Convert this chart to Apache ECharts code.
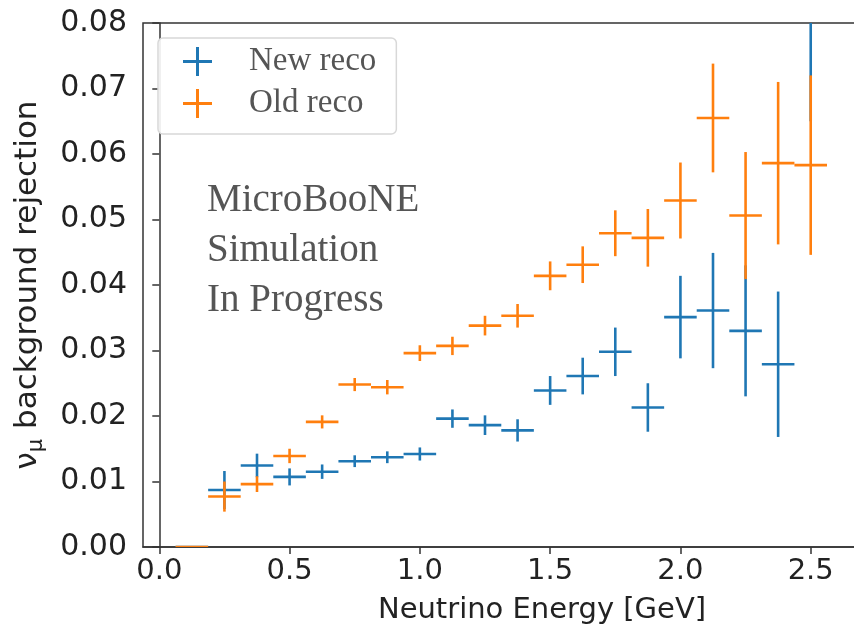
<!DOCTYPE html>
<html>
<head>
<meta charset="utf-8">
<script src="https://cdn.jsdelivr.net/npm/echarts@6/dist/echarts.min.js"></script>
<style>
html,body{margin:0;padding:0;background:#fff;}
#chart{width:854px;height:632px;}
</style>
</head>
<body>
<div id="chart"></div>
<script>
// Bin centres (GeV) and half bin width
const binCenters = [0.125, 0.25, 0.375, 0.5, 0.625, 0.75, 0.875, 1.0, 1.125, 1.25, 1.375, 1.5, 1.625, 1.75, 1.875, 2.0, 2.125, 2.25, 2.375, 2.5];
const binHalfWidth = 0.0625;

// New reco
const newRecoValues = [0, 0.0087, 0.01245, 0.0107, 0.0115, 0.0131, 0.0137, 0.0142, 0.0196, 0.0186, 0.0178, 0.0239, 0.0261, 0.0298, 0.0213, 0.0351, 0.0361, 0.0330, 0.0279, 0.095];
const newRecoErrors = [0, 0.0029, 0.0018, 0.0013, 0.0011, 0.0009, 0.0009, 0.0010, 0.0014, 0.0015, 0.0017, 0.0022, 0.0028, 0.0037, 0.0037, 0.0063, 0.0088, 0.0100, 0.0111, 0.030];

// Old reco
const oldRecoValues = [0, 0.0077, 0.0096, 0.0139, 0.0191, 0.0248, 0.0244, 0.0296, 0.0307, 0.0338, 0.0353, 0.0414, 0.0431, 0.0479, 0.0472, 0.0529, 0.0655, 0.0506, 0.0586, 0.0583];
const oldRecoErrors = [0, 0.0023, 0.0012, 0.0011, 0.0010, 0.0010, 0.0011, 0.0012, 0.0014, 0.0015, 0.0018, 0.0022, 0.0028, 0.0035, 0.0044, 0.0058, 0.0083, 0.0097, 0.0124, 0.0137];

const xTickValues = [0, 0.5, 1.0, 1.5, 2.0, 2.5, 3.0];
const seriesNames = ['New reco', 'Old reco'];
const annotationLines = ['MicroBooNE', 'Simulation', 'In Progress'];

function buildData(vals, errs) {
  return binCenters.map((x, i) => [x, vals[i], errs[i], binHalfWidth]);
}

function renderItem(params, api) {
  const x = api.value(0), y = api.value(1), ye = api.value(2), xe = api.value(3);
  const l = api.coord([x - xe, y]);
  const r = api.coord([x + xe, y]);
  const t = api.coord([x, y + ye]);
  const b = api.coord([x, y - ye]);
  const style = { stroke: api.visual('color'), lineWidth: 2.6, fill: null };
  return {
    type: 'group',
    children: [
      { type: 'line', shape: { x1: l[0], y1: l[1], x2: r[0], y2: r[1] }, style: style },
      { type: 'line', shape: { x1: t[0], y1: t[1], x2: b[0], y2: b[1] }, style: style }
    ]
  };
}

const plusIcon = 'path://M0,13 L29,13 L29,16 L0,16 Z M13,0 L16,0 L16,29 L13,29 Z';

const chart = echarts.init(document.getElementById('chart'), null, { renderer: 'canvas' });
chart.setOption({
  animation: false,
  backgroundColor: '#ffffff',
  grid: {
    left: 143, top: 23, width: 798, height: 524,
    show: true, borderColor: '#333', borderWidth: 1.5,
    outerBoundsMode: 'none'
  },
  legend: {
    data: seriesNames,
    orient: 'vertical',
    left: 158, top: 38,
    padding: [7, 20, 14, 25],
    itemWidth: 29, itemHeight: 29, itemGap: 9,
    icon: plusIcon,
    backgroundColor: 'rgba(255,255,255,0.9)',
    borderColor: '#d8d8d8', borderWidth: 1.5, borderRadius: 5,
    itemStyle: { borderWidth: 0 },
    textStyle: { fontFamily: 'Liberation Serif', fontSize: 33, lineHeight: 23, color: '#555', padding: [10, 0, 0, 32] }
  },
  xAxis: {
    type: 'value',
    min: -0.0625, max: 3.0,
    name: 'Neutrino Energy [GeV]',
    nameLocation: 'middle', nameGap: 49,
    nameTextStyle: { fontFamily: 'DejaVu Sans', fontSize: 29, color: '#222' },
    axisLine: { show: true, onZero: false, lineStyle: { color: '#333', width: 1.5 } },
    axisTick: { show: true, length: 7, customValues: xTickValues, lineStyle: { color: '#333', width: 1.5 } },
    axisLabel: { customValues: xTickValues, margin: 10, fontFamily: 'DejaVu Sans', fontSize: 29, color: '#222', formatter: v => v.toFixed(1) },
    splitLine: { show: false }
  },
  yAxis: {
    type: 'value',
    min: 0, max: 0.08, interval: 0.01,
    name: '{nu|ν}{mu|μ} background rejection',
    nameLocation: 'middle', nameGap: 96, nameRotate: 90,
    nameTextStyle: {
      fontFamily: 'DejaVu Sans', fontSize: 31, color: '#222',
      rich: {
        nu: { fontFamily: 'DejaVu Sans', fontSize: 31, color: '#222', lineHeight: 38 },
        mu: { fontFamily: 'DejaVu Sans', fontSize: 21, color: '#222', lineHeight: 21, verticalAlign: 'bottom' }
      }
    },
    axisLine: { show: true, lineStyle: { color: '#333', width: 1.5 } },
    axisTick: { show: true, length: 7, lineStyle: { color: '#333', width: 1.5 } },
    axisLabel: { margin: 16, fontFamily: 'DejaVu Sans', fontSize: 30, color: '#222', formatter: v => v.toFixed(2) },
    splitLine: { show: false }
  },
  graphic: [{
    type: 'text',
    left: 207, top: 176,
    style: {
      text: annotationLines.join('\n'),
      font: '39px "Liberation Serif"',
      lineHeight: 50,
      fill: '#555'
    }
  }],
  series: [
    {
      name: seriesNames[0], type: 'custom', clip: true,
      itemStyle: { color: '#1f77b4' },
      renderItem: renderItem,
      encode: { x: 0, y: 1 },
      data: buildData(newRecoValues, newRecoErrors),
      z: 2
    },
    {
      name: seriesNames[1], type: 'custom', clip: true,
      itemStyle: { color: '#ff7f0e' },
      renderItem: renderItem,
      encode: { x: 0, y: 1 },
      data: buildData(oldRecoValues, oldRecoErrors),
      z: 3
    }
  ]
});
</script>
</body>
</html>
